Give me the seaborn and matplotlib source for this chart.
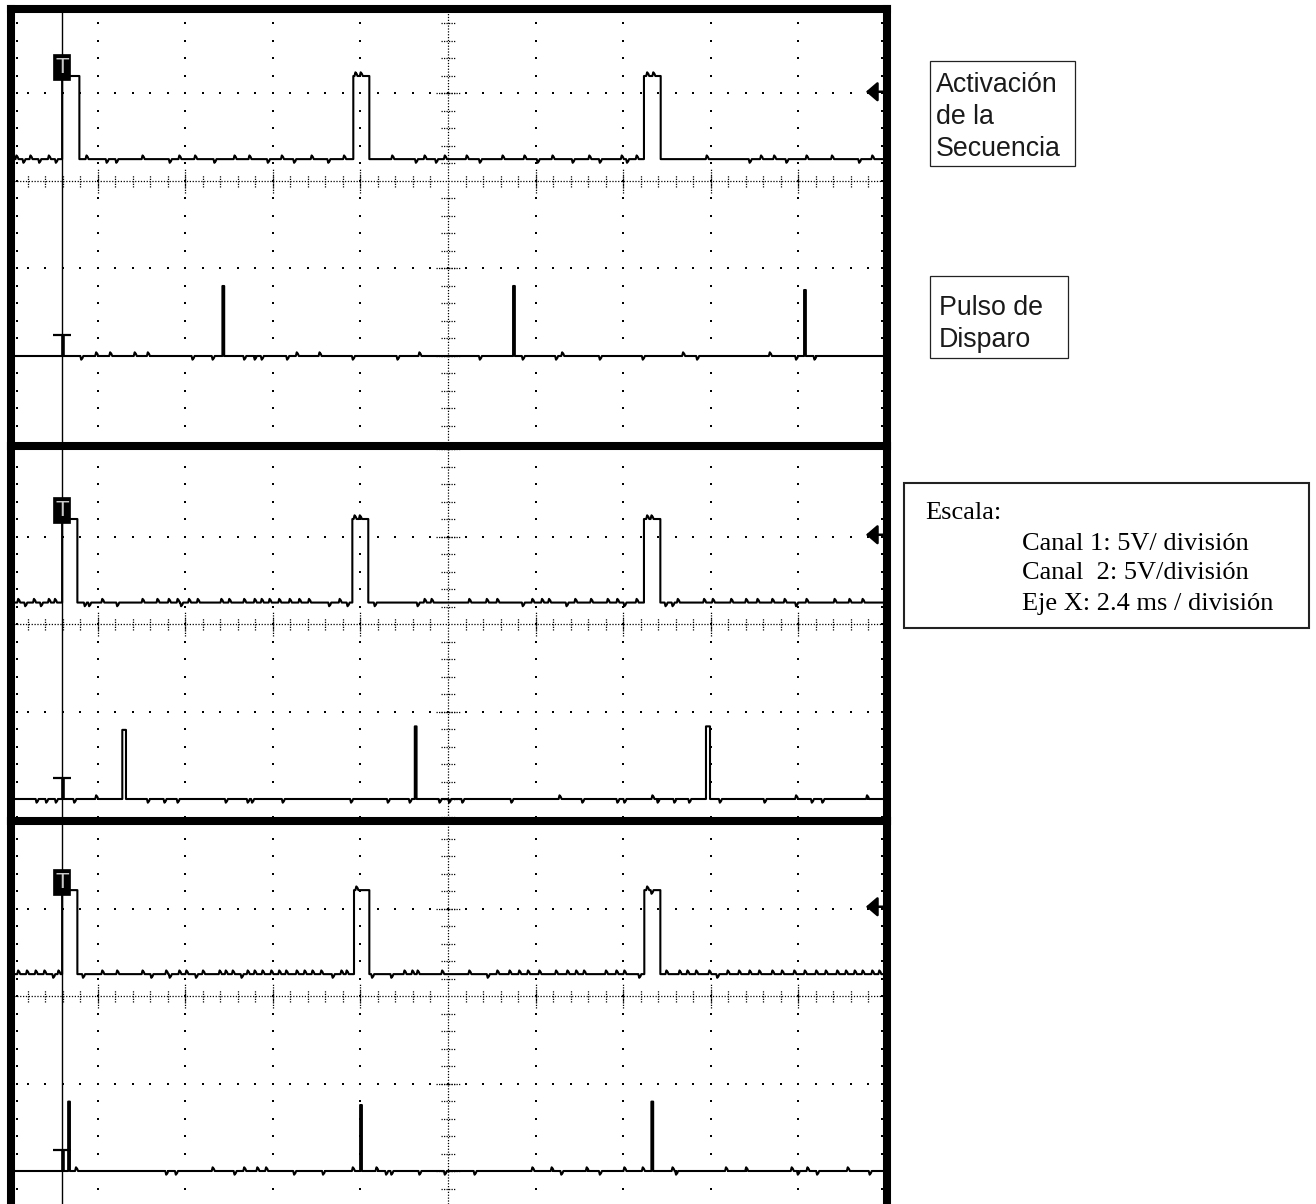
import numpy as np
import pandas as pd
import matplotlib
matplotlib.use("Agg")
import matplotlib.pyplot as plt
import seaborn as sns
from matplotlib.patches import Rectangle

sns.set_style("white")
plt.rcParams['font.family'] = ['Liberation Sans', 'DejaVu Sans']

# ------------------------------------------------------------------
# DATA  (screen units = divisions; x: 2.4 ms/div, y: 5 V/div)
# ------------------------------------------------------------------
cursor_x = -4.41          # trigger cursor position
trig_level = 1.02         # trigger level arrow (channel 1)

ch1_low = [0.25, 0.245, 0.25]
ch1_high = [1.20, 1.20, 1.21]
ch2_base = [-2.0, -2.0, -2.0]

# channel 1 pulses (rise, fall) per capture
ch1_pulses_a = [(-4.405, -4.208), (-1.081, -0.898), (2.237, 2.428)]
ch1_pulses_b = [(-4.405, -4.231), (-1.092, -0.910), (2.237, 2.424)]
ch1_pulses_c = [(-4.405, -4.231), (-1.073, -0.898), (2.241, 2.424)]

# channel 2 firing pulses (start, end, top level)
ch2_spikes_a = [(-2.575, -2.555, -1.20), (0.743, 0.763, -1.20), (4.065, 4.085, -1.246)]
ch2_spikes_b = [(-3.718, -3.676, -1.21), (-0.379, -0.359, -1.17), (2.945, 2.991, -1.17)]
ch2_spikes_c = [(-4.336, -4.316, -1.207), (-1.003, -0.983, -1.246), (2.322, 2.342, -1.207)]

# small noise glitches on the traces (position, direction)
ch1_noise_a = [(-4.92, 1), (-4.84, -1), (-4.76, 1), (-4.66, -1), (-4.55, 1), (-4.47, -1),
               (-4.12, 1), (-3.89, -1), (-3.78, -1), (-3.48, 1), (-3.17, -1), (-3.06, 1),
               (-2.88, 1), (-2.66, -1), (-2.43, 1), (-2.26, 1), (-2.05, -1), (-1.89, 1),
               (-1.75, -1), (-1.55, 1), (-1.36, -1), (-1.18, 1), (-1.05, 1), (-0.99, 1),
               (-0.63, 1), (-0.36, -1), (-0.26, 1), (-0.13, -1), (-0.03, 1), (0.22, 1),
               (0.37, -1), (0.63, 1), (0.88, 1), (1.03, -1), (1.20, 1), (1.43, -1),
               (1.62, 1), (1.74, -1), (1.99, 1), (2.05, -1), (2.16, 1), (2.28, 1),
               (2.35, 1), (2.96, 1), (3.45, -1), (3.58, 1), (3.73, 1), (3.87, -1),
               (4.10, 1), (4.39, 1), (4.70, -1), (4.85, 1)]
ch1_noise_b = [(-4.90, 1), (-4.82, -1), (-4.72, 1), (-4.64, -1), (-4.55, 1), (-4.48, 1),
               (-4.14, -1), (-4.09, -1), (-3.94, 1), (-3.77, -1), (-3.48, 1), (-3.31, 1),
               (-3.18, 1), (-3.08, 1), (-3.04, -1), (-2.95, 1), (-2.85, 1), (-2.58, 1),
               (-2.49, 1), (-2.32, 1), (-2.20, 1), (-2.12, 1), (-2.03, 1), (-1.92, 1),
               (-1.80, 1), (-1.69, 1), (-1.58, 1), (-1.35, -1), (-1.23, 1), (-1.14, -1),
               (-1.06, 1), (-1.00, 1), (-0.83, -1), (-0.34, -1), (-0.26, 1), (-0.18, 1),
               (0.25, 1), (0.45, 1), (0.57, 1), (0.86, -1), (0.97, 1), (1.08, 1),
               (1.16, 1), (1.36, -1), (1.46, 1), (1.64, 1), (1.83, 1), (1.94, 1),
               (2.02, -1), (2.16, 1), (2.28, 1), (2.33, 1), (2.49, -1), (2.57, -1),
               (2.63, 1), (2.93, 1), (3.03, 1), (3.24, 1), (3.41, 1), (3.54, 1),
               (3.71, 1), (3.85, 1), (3.98, -1), (4.10, 1), (4.42, 1), (4.59, 1), (4.74, 1)]
ch1_noise_c = [(-4.90, 1), (-4.80, 1), (-4.70, 1), (-4.60, 1), (-4.50, -1), (-4.44, 1),
               (-4.16, -1), (-3.94, 1), (-3.77, 1), (-3.48, 1), (-3.38, -1), (-3.21, 1),
               (-3.17, -1), (-3.06, 1), (-2.98, 1), (-2.87, -1), (-2.79, 1), (-2.60, 1),
               (-2.53, 1), (-2.45, 1), (-2.35, -1), (-2.28, 1), (-2.20, 1), (-2.11, 1),
               (-2.01, 1), (-1.92, 1), (-1.84, 1), (-1.72, 1), (-1.63, 1), (-1.54, 1),
               (-1.44, 1), (-1.31, -1), (-1.21, 1), (-1.15, 1), (-1.04, 1), (-0.86, -1),
               (-0.64, -1), (-0.49, 1), (-0.40, 1), (-0.34, 1), (-0.06, 1), (0.25, 1),
               (0.46, -1), (0.57, 1), (0.71, 1), (0.82, 1), (0.92, 1), (1.05, 1),
               (1.24, 1), (1.37, 1), (1.47, 1), (1.56, 1), (1.81, 1), (1.93, 1),
               (2.02, 1), (2.19, -1), (2.28, 1), (2.33, -1), (2.50, 1), (2.65, 1),
               (2.74, 1), (2.84, 1), (2.99, 1), (3.08, -1), (3.20, 1), (3.33, 1),
               (3.45, 1), (3.56, 1), (3.71, 1), (3.82, 1), (3.96, 1), (4.08, 1),
               (4.21, 1), (4.32, 1), (4.45, 1), (4.55, 1), (4.65, 1), (4.74, 1),
               (4.85, 1), (4.93, 1)]

ch2_noise_a = [(-4.18, -1), (-4.01, 1), (-3.85, 1), (-3.57, 1), (-3.42, 1), (-2.91, -1),
               (-2.68, -1), (-2.32, -1), (-2.20, -1), (-2.12, -1), (-1.83, -1), (-1.72, 1),
               (-1.46, 1), (-1.08, -1), (-0.57, -1), (-0.32, 1), (0.37, -1), (0.86, -1),
               (1.24, -1), (1.31, 1), (1.74, -1), (2.23, -1), (2.69, 1), (2.85, -1),
               (3.68, 1), (3.98, -1), (4.19, -1)]
ch2_noise_b = [(-4.69, -1), (-4.58, -1), (-4.47, -1), (-4.26, -1), (-4.01, 1), (-3.42, -1),
               (-3.23, -1), (-3.08, -1), (-2.53, -1), (-2.28, -1), (-2.23, -1), (-1.88, -1),
               (-1.10, -1), (-0.68, -1), (-0.43, -1), (-0.09, -1), (0.02, -1), (0.17, -1),
               (0.73, -1), (1.28, 1), (1.54, -1), (1.94, -1), (2.02, -1), (2.34, 1),
               (2.40, -1), (2.59, -1), (2.76, -1), (3.11, -1), (3.62, -1), (3.98, 1),
               (4.16, -1), (4.28, -1), (4.79, 1)]
ch2_noise_c = [(-4.24, 1), (-3.21, -1), (-3.10, -1), (-2.68, 1), (-2.43, -1), (-2.32, 1),
               (-2.17, 1), (-2.07, 1), (-1.75, -1), (-1.42, -1), (-1.08, 1), (-0.81, 1),
               (-0.70, -1), (-0.64, -1), (-0.32, -1), (-0.03, -1), (0.31, -1), (0.97, 1),
               (1.19, 1), (1.30, -1), (1.59, 1), (1.74, -1), (2.02, 1), (2.23, 1),
               (2.57, 1), (2.61, -1), (3.18, 1), (3.41, 1), (3.93, 1), (4.00, -1),
               (4.11, 1), (4.22, -1), (4.57, 1), (4.82, -1)]

captures = [
    dict(p1=ch1_pulses_a, s2=ch2_spikes_a, n1=ch1_noise_a, n2=ch2_noise_a),
    dict(p1=ch1_pulses_b, s2=ch2_spikes_b, n1=ch1_noise_b, n2=ch2_noise_b),
    dict(p1=ch1_pulses_c, s2=ch2_spikes_c, n1=ch1_noise_c, n2=ch2_noise_c),
]

label_top = ["Activación", "de la", "Secuencia"]
label_mid = ["Pulso de", "Disparo"]
scale_title = "Escala:"
scale_lines = ["Canal 1: 5V/ división", "Canal  2: 5V/división", "Eje X: 2.4 ms / división"]

# ------------------------------------------------------------------
# LAYOUT
# ------------------------------------------------------------------
W, H = 1316, 1204
CX, PXX, PXY = 448.0, 87.6, 87.5
XLIM = (-4.99, 5.006)
panel_cy = [181.0, 624.0, 996.0]
panel_ylim = [(-3.029, 1.971), (-2.251, 2.034), (-2.377, 2.0)]
GLITCH_AMP, GLITCH_W = 0.042, 0.017

fig = plt.figure(figsize=(W / 100, H / 100), dpi=100)
fig.patch.set_facecolor('white')


def fx(px):
    return px / W


def fy(py):
    return 1 - py / H


def glitch(x, base, s):
    # small step-like glitch: up/down and back
    return [(x - GLITCH_W, base), (x - GLITCH_W * 0.4, base + s * GLITCH_AMP),
            (x + GLITCH_W * 0.4, base + s * GLITCH_AMP * 0.6), (x + GLITCH_W, base)]


def build_ch1(pulses, low, high, noise):
    pts = [(XLIM[0], low)]
    for r, f in pulses:
        pts += [(r, low), (r, high), (f, high), (f, low)]
    for b, s in noise:
        base = high if any(r < b < f for r, f in pulses) else low
        pts += glitch(b, base, s)
    pts.append((XLIM[1], low))
    pts.sort(key=lambda p: p[0])
    return pd.DataFrame(pts, columns=['t', 'v'])


def build_ch2(spikes, base, noise):
    pts = [(XLIM[0], base)]
    for a, b, top in spikes:
        pts += [(a, base), (a, top), (b, top), (b, base)]
    for x, s in noise:
        pts += glitch(x, base, s)
    pts.append((XLIM[1], base))
    pts.sort(key=lambda p: p[0])
    return pd.DataFrame(pts, columns=['t', 'v'])


def graticule(ax, ylo, yhi):
    step = 0.2
    yv = np.round(np.arange(np.ceil(ylo / step) * step, yhi + 1e-9, step), 3)
    xv = np.round(np.arange(-4.8, 4.81, step), 3)
    dot = dict(marker='s', s=2.6, color='k', linewidths=0, zorder=1)
    for gx in [-4, -3, -2, -1, 1, 2, 3, 4]:
        ax.scatter(np.full(len(yv), gx), yv, **dot)
    for gy in range(int(np.ceil(ylo)), int(np.floor(yhi)) + 1):
        if gy != 0:
            ax.scatter(xv, np.full(len(xv), gy), **dot)
    # edge ticks
    ax.scatter(np.full(len(yv), -4.925), yv, **dot)
    ax.scatter(np.full(len(yv), 4.955), yv, **dot)
    # centre lines
    dense = (0, (1, 1.3))
    ax.axhline(0, color='k', lw=0.9, ls=dense, zorder=1)
    ax.axvline(0, color='k', lw=0.9, ls=dense, zorder=1)
    xm = xv[np.abs(xv) > 1e-6]
    ax.vlines(xm, -0.065, 0.065, color='k', lw=0.9, linestyles=[(0, (1, 1))], zorder=1)
    ax.vlines([-4, -3, -2, -1, 1, 2, 3, 4], -0.14, 0.14, color='k', lw=0.9,
              linestyles=[(0, (1, 1))], zorder=1)
    ym = yv[np.abs(yv) > 1e-6]
    ax.hlines(ym, -0.075, 0.075, color='k', lw=0.9, linestyles=[(0, (1, 1))], zorder=1)
    yi = [g for g in range(int(np.ceil(ylo)), int(np.floor(yhi)) + 1) if g != 0]
    ax.hlines(yi, -0.14, 0.14, color='k', lw=0.9, linestyles=[(0, (1, 1))], zorder=1)


left_px = CX + XLIM[0] * PXX
right_px = CX + XLIM[1] * PXX

for i, cap in enumerate(captures):
    lo, hi = panel_ylim[i]
    top_px = panel_cy[i] - hi * PXY
    bot_px = panel_cy[i] - lo * PXY
    ax = fig.add_axes([fx(left_px), fy(bot_px), fx(right_px) - fx(left_px), fy(top_px) - fy(bot_px)])
    ax.set_facecolor('none')
    ax.set_xlim(*XLIM)
    ax.set_ylim(lo, hi)
    ax.set_xticks([])
    ax.set_yticks([])
    for sp in ax.spines.values():
        sp.set_linewidth(5.8)
        sp.set_color('black')
        sp.set_visible(True)
    if i > 0:
        ax.spines['top'].set_visible(False)
    if i == 2:
        ax.spines['bottom'].set_visible(False)

    graticule(ax, lo, hi)

    d1 = build_ch1(cap['p1'], ch1_low[i], ch1_high[i], cap['n1'])
    d2 = build_ch2(cap['s2'], ch2_base[i], cap['n2'])
    sns.lineplot(data=d1, x='t', y='v', sort=False, estimator=None, ax=ax,
                 color='black', linewidth=1.5, zorder=3)
    sns.lineplot(data=d2, x='t', y='v', sort=False, estimator=None, ax=ax,
                 color='black', linewidth=1.5, zorder=3)
    ax.set_xlabel('')
    ax.set_ylabel('')

    # trigger cursor
    ax.axvline(cursor_x, color='black', lw=1.0, zorder=4)
    # channel 1 marker (black box with T)
    ax.add_patch(Rectangle((cursor_x - 0.10, 1.15), 0.20, 0.30, facecolor='black',
                           edgecolor='black', lw=0.5, zorder=5))
    ax.text(cursor_x + 0.005, 1.30, "T", ha='center', va='center', fontsize=16,
            color='#c8c8c8', family=['Liberation Sans', 'DejaVu Sans'], zorder=6)
    # channel 2 ground marker
    ax.plot([cursor_x - 0.10, cursor_x + 0.11], [-1.76, -1.76], color='black', lw=1.6,
            zorder=5, solid_capstyle='butt')
    ax.plot([cursor_x + 0.018, cursor_x + 0.018], [-1.76, ch2_base[i]], color='black',
            lw=2.6, zorder=5, solid_capstyle='butt')
    # trigger level arrow
    ax.annotate('', xy=(4.77, trig_level), xytext=(4.99, trig_level),
                arrowprops=dict(arrowstyle='-|>,head_length=0.35,head_width=0.3',
                                color='black', lw=1.8, mutation_scale=20,
                                shrinkA=0, shrinkB=0), zorder=6)

# ------------------------------------------------------------------
# LABEL BOXES
# ------------------------------------------------------------------
def fig_box(x0, y0, x1, y1, lw):
    fig.add_artist(Rectangle((fx(x0), fy(y1)), fx(x1) - fx(x0), fy(y0) - fy(y1),
                             transform=fig.transFigure, fill=False, edgecolor='#222222',
                             lw=lw))

sans = ['Liberation Sans', 'DejaVu Sans']
serif = ['Liberation Serif', 'DejaVu Serif']

fig_box(930, 61, 1075, 166, 0.9)
for txt, yb in zip(label_top, [91.7, 124.0, 155.5]):
    fig.text(fx(936), fy(yb), txt, ha='left', va='baseline', fontsize=19.3,
             family=sans, color='#1a1a1a')

fig_box(930, 275.7, 1068, 358.3, 0.9)
for txt, yb in zip(label_mid, [315.0, 346.7]):
    fig.text(fx(939), fy(yb), txt, ha='left', va='baseline', fontsize=19.3,
             family=sans, color='#1a1a1a')

fig_box(904.3, 483.3, 1309.3, 627.7, 1.5)
fig.text(fx(925.7), fy(519.3), scale_title, ha='left', va='baseline', fontsize=19,
         family=serif, color='black')
for txt, yb in zip(scale_lines, [550.0, 579.3, 610.0]):
    fig.text(fx(1021.7), fy(yb), txt, ha='left', va='baseline', fontsize=19,
             family=serif, color='black')

fig.savefig('out.png', dpi=100, facecolor='white')
